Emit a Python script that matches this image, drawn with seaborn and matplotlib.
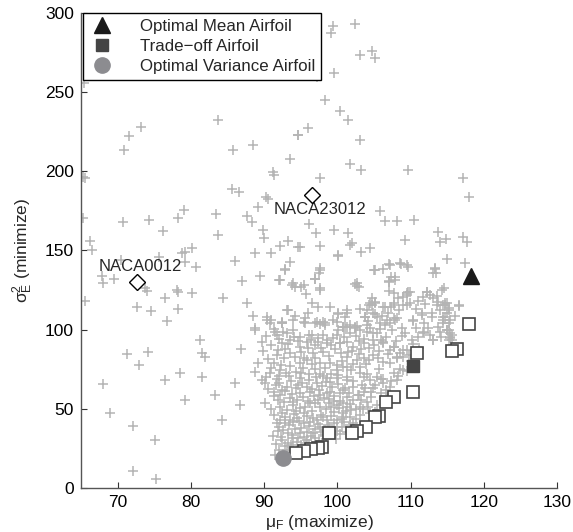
import numpy as np
import pandas as pd
import matplotlib
matplotlib.use("Agg")
import matplotlib.pyplot as plt
from matplotlib.lines import Line2D
import seaborn as sns

upper_pts = [
    (83.7, 232.7), (73.2, 227.8), (71.6, 222.6), (70.9, 213.7), (85.8, 213.4), (88.5, 216.5),
    (93.6, 207.8), (94.6, 223), (65.4, 255.8), (91.2, 199.6), (99.4, 291.6), (99.2, 287.4),
    (102.4, 293.3), (103.1, 273.5), (104.7, 275.8), (105.2, 271.8), (99.6, 262), (97.2, 259.4),
    (98.3, 245.3), (100.4, 238.4), (101.4, 232.7), (94.7, 223.2), (96.0, 227.4), (103.1, 219.8),
    (101.7, 204.7), (103.3, 201), (109.6, 201), (117.2, 196), (118.0, 183.8), (97.7, 196),
    (105.8, 175), (106.5, 168.5), (108.1, 168.5), (110.5, 169), (96.1, 166.8), (97.1, 160.9),
    (99.6, 163), (101.4, 160.9), (97.7, 152.9), (101.7, 153.5), (104.5, 151.4), (109.2, 156.7),
    (113.8, 161.5), (114.0, 155.2), (114.9, 157.1), (117.1, 158.8), (117.7, 155.2), (102, 155),
    (94.9, 152), (100.1, 146.7), (103.3, 148.8), (115, 144.4), (117.5, 141.9),
]
left_pts = [
    (65.5, 195.6), (65.3, 196.7), (91.3, 197.7), (85.6, 188.7), (86.6, 187.2), (90.2, 184),
    (90.6, 182.6), (89.2, 177.3), (79, 175.6), (78.3, 170.4), (83.5, 172.9), (87.6, 172),
    (88.3, 167.8), (70.7, 168.2), (74.3, 169.3), (76.2, 162.6), (89.9, 163), (90, 157.7),
    (65.3, 170.4), (83.7, 159.5), (66.2, 156.3), (66.5, 150.3), (93.3, 156), (92.2, 152.9),
    (94.6, 152.5), (79.2, 149.3), (80.1, 151.4), (78.8, 148.7), (75.6, 145.8), (88.8, 148.2),
    (91, 148.2), (70.4, 144), (80.7, 139.8), (79.2, 143), (86, 143.6), (93.6, 143),
    (92.9, 138.2), (67.8, 134), (68, 129.3), (69.5, 131.8), (73.7, 126.1), (74, 124.6),
    (78.1, 125), (78.3, 124), (80.2, 123), (76.5, 119.8), (84.4, 120.2), (87, 131),
    (89.5, 134), (92, 131.4), (93.8, 128.2), (94.2, 127.2), (65.5, 118), (87.6, 117),
    (72.6, 114.1), (74.6, 112), (78.2, 112.9), (76.7, 105.7), (88.5, 108.8), (90.4, 108.2),
    (91, 106.1), (92.4, 104.4), (93.3, 112.4), (94.2, 108.8), (88.8, 100.8),
]
lower_left_pts = [
    (68, 65.7), (71.3, 84.6), (72.9, 77.7), (74.2, 85.9), (76.5, 68.2), (78.5, 72.6),
    (81.3, 93.5), (81.9, 82.8), (69, 47.4), (72.1, 39.2), (75.1, 30.3), (72.1, 10.7),
    (75.3, 5.7), (79.2, 55.6), (83.3, 58.7), (84.3, 43), (86.7, 52.4),
]
band_pts = [
    (105, 138), (106.2, 138.5), (107.1, 141.3), (108.7, 141.3), (109.7, 139.8), (113.3, 138.3),
    (113.5, 136), (97.6, 138.8), (97.5, 135.6), (96.9, 131.8), (95.1, 127.2), (97.6, 126.1),
    (95.7, 122.6), (102.4, 128.6), (102.9, 127.2), (107.4, 133), (107, 130.8), (107.9, 131.4),
    (107.1, 124.6), (109.5, 123), (109.9, 124), (109, 120.8), (108.3, 119.8), (112.2, 124),
    (112.7, 121.9), (114.3, 125.1), (114.6, 126.1), (96.6, 116.7), (97.4, 114.5), (104.7, 119.8),
    (105.2, 116.7), (104.3, 115.6), (106.5, 114.5), (107.4, 114.5), (113.1, 119.8), (113.8, 117.7),
    (114.7, 115.6), (115.2, 113.5), (116.6, 115), (95.6, 107.2), (100.1, 110), (101.1, 108.2),
    (103.8, 108.2), (105.2, 110), (106.1, 108.7), (107.7, 107.2), (110.4, 105.7), (111.5, 110.4),
    (112.9, 108.2), (114.5, 108.2), (115.2, 104), (116.1, 108.7), (97.6, 103.6), (98.3, 103),
    (101.1, 101.9), (102.7, 102.3), (104, 103), (92.9, 137.7), (92.2, 131.4), (94, 129.3),
    (95.4, 128.2), (97.7, 137.7), (97, 131.8), (97.7, 125.1), (100.1, 147.2), (105.2, 137.7),
    (107.2, 140.9), (108.6, 141.9), (109.5, 140.9), (107.9, 133.5), (107, 130.3), (102.7, 129.3),
    (102.7, 127.6), (107.7, 123), (109.7, 124), (109.5, 121.9), (113.4, 138.8), (113.1, 135.6),
    (112.2, 124), (111.7, 120.8), (114.7, 116.7), (116.6, 115.6), (115.2, 112.4), (114.7, 108.2),
    (115.2, 99.8), (115.6, 96.7), (115.4, 94.6), (115.6, 93.5), (109.5, 115.6), (107.7, 115.6),
    (105.2, 117.7), (104.7, 115.6), (104, 112.4), (101.3, 112.4), (100.1, 110.4), (99.4, 106.1),
    (98.1, 105), (97, 104), (95.4, 105), (94, 106.1), (93.1, 112.4), (92.4, 105), (90.4, 106.1),
]
core_pts = [
    (91.5, 98.7), (92.6, 98.7), (94, 99.8), (94.9, 95.6), (96.5, 96.7), (97.4, 94.6),
    (98.6, 93.5), (100.1, 99.8), (101.3, 101.9), (102.4, 101.9), (103.1, 99.8), (104.9, 97.7),
    (106.5, 103), (107.9, 106.1), (110.4, 106.1), (111.7, 98.7), (113.1, 93.5), (106.3, 92.4),
    (107.7, 89.3), (109, 87.2), (108.1, 82.9), (109, 82.9), (108.6, 75), (109.5, 74),
    (90.8, 104.4), (92.4, 104.4), (95.6, 104), (97.2, 105), (98.3, 104), (99.9, 105),
    (100.8, 101.9), (88.8, 99.8), (91.7, 96.7), (93.1, 97.7), (96.1, 96.7), (97.4, 92.4),
    (98.6, 91.4), (100.4, 91.4), (94.9, 89.3), (93.6, 93.5), (92.4, 91.4), (89.7, 92.4),
    (86.9, 87.6), (81.5, 85), (91.7, 84), (91.3, 78.8), (89.2, 78.8), (88.8, 73.5),
    (90.8, 72.5), (92.2, 74.5), (94.9, 78.8), (95.8, 80.9), (96.7, 85), (97.7, 78.8),
    (99.0, 78.8), (99.9, 74.5), (101.3, 76.6), (81.5, 70.4), (86, 66.1), (89.7, 68.2),
    (90.1, 66.1), (92, 66.1), (93.1, 64), (94.9, 69.3), (95.8, 64), (97.2, 66.1),
    (98.6, 69.3), (99.9, 69.3), (101.3, 68.2), (91.3, 60.8), (92.2, 58.7), (93.6, 56.7),
    (94.9, 59.8), (96.3, 60.8), (97.7, 58.7), (99, 60.8), (100.4, 59.8), (101.3, 57.7),
    (90.1, 53.9), (92.2, 51.4), (93.1, 49.3), (94, 52.4), (94.9, 50.3), (96.3, 53.5),
    (97.7, 51.4), (98.8, 53.5), (99.9, 52.4), (101.3, 51.4), (92.2, 43), (92.9, 45),
    (93.6, 43), (94.5, 44), (95.4, 40.9), (96.3, 41.9), (97.2, 43), (98.6, 43),
    (99.9, 43), (100.8, 45), (92, 38.7), (92.6, 36.6), (93.8, 33.5), (94.9, 34.5),
    (95.8, 35.6), (96.7, 34.5), (97.7, 38.7), (98.3, 36.6), (99.9, 38.7), (92.4, 30.3),
    (93.3, 28.2), (94.5, 29.2), (95.8, 30.3), (97, 31.4), (93.1, 24), (94, 25),
]
core_extra_pts = [
    (91.2, 33.0), (91.6, 27.5), (92.8, 26.4), (93.9, 31.8), (94.2, 37.5), (95.1, 26.9),
    (95.5, 32.2), (96.2, 27.8), (96.9, 37.0), (97.5, 29.5), (98.1, 33.2), (98.7, 40.1),
    (99.3, 35.3), (99.8, 31.0), (100.4, 33.9), (100.9, 41.6), (91.8, 41.2), (92.5, 47.3),
    (93.4, 39.6), (94.1, 46.8), (94.8, 42.5), (95.9, 45.6), (96.6, 48.9), (97.8, 46.2),
    (98.4, 49.8), (99.1, 45.4), (99.6, 48.1), (100.2, 50.6), (101.9, 49.3), (102.6, 43.7),
    (103.5, 49.8), (104.2, 51.2), (91.0, 50.2), (91.9, 55.4), (92.7, 54.1), (93.8, 59.3),
    (94.5, 55.7), (95.3, 57.2), (96.0, 55.0), (96.8, 57.9), (97.3, 55.6), (98.2, 57.1),
    (98.9, 56.2), (99.6, 58.4), (100.3, 55.1), (101.6, 60.3), (102.8, 58.6), (104.6, 57.2),
    (90.6, 62.7), (91.6, 64.9), (92.4, 62.2), (93.7, 67.8), (94.3, 62.9), (95.2, 66.6),
    (96.5, 62.3), (97.1, 69.9), (97.9, 64.3), (98.5, 66.8), (99.3, 63.6), (100.1, 65.5),
    (101.0, 63.1), (102.1, 67.5), (103.4, 65.1), (104.1, 71.8), (90.3, 70.1), (91.0, 75.6),
    (92.0, 70.8), (93.0, 72.9), (93.6, 77.3), (94.4, 73.3), (95.3, 75.6), (96.2, 71.9),
    (96.9, 75.1), (97.6, 72.3), (98.3, 75.9), (99.2, 72.0), (100.0, 77.8), (101.9, 74.6),
    (103.9, 78.6), (105.7, 75.3), (90.6, 81.5), (91.9, 87.0), (92.7, 81.8), (93.5, 85.4),
    (94.2, 82.6), (95.1, 85.9), (96.0, 88.3), (97.0, 82.0), (98.0, 86.2), (98.9, 83.6),
    (99.7, 87.9), (100.5, 85.3), (102.0, 86.7), (103.2, 87.9), (104.3, 88.6), (105.7, 86.4),
    (106.9, 84.5), (92.0, 93.9), (93.3, 90.8), (94.6, 93.0), (95.8, 91.9), (96.9, 90.3),
    (98.0, 96.9), (99.4, 94.6), (100.9, 95.6), (102.6, 96.3), (103.6, 94.1), (104.4, 101.0),
    (105.8, 100.3), (108.8, 101.1), (110.2, 93.2), (111.0, 95.1), (112.4, 101.2), (111.2, 88.7),
    (110.4, 91.2), (110.0, 80.2), (106.2, 69.1), (103.0, 58.6), (105.1, 48.0), (102.2, 41.3),
    (93.4, 21.8), (92.1, 23.9), (91.5, 21.1),
]
core_fill_pts = [
    (91.4, 45.8), (91.9, 36.2), (92.3, 32.1), (92.9, 40.8), (93.2, 35.0), (93.7, 27.1),
    (94.0, 41.9), (94.4, 48.4), (94.7, 31.3), (95.0, 38.2), (95.4, 47.6), (95.7, 28.6),
    (96.1, 39.4), (96.4, 33.1), (96.7, 44.4), (97.1, 27.0), (97.4, 40.3), (97.8, 35.1),
    (98.1, 45.0), (98.5, 30.8), (98.8, 38.4), (99.2, 50.9), (99.5, 41.3), (100.0, 36.1),
    (100.7, 43.3), (101.2, 48.7), (101.8, 53.2), (102.5, 50.1), (103.3, 55.3), (103.8, 62.9),
    (104.6, 60.6), (105.2, 65.2), (105.9, 68.6), (106.6, 62.1), (107.4, 67.3), (108.3, 71.0),
    (91.3, 58.2), (91.8, 68.7), (92.3, 77.5), (92.9, 61.3), (93.4, 70.6), (93.9, 54.2),
    (94.6, 65.3), (95.0, 72.4), (95.6, 50.9), (96.1, 67.9), (96.6, 78.2), (97.0, 53.4),
    (97.5, 61.8), (98.0, 70.7), (98.6, 60.3), (99.0, 67.1), (99.5, 54.8), (100.1, 71.4),
    (100.6, 80.3), (101.4, 86.1), (102.2, 78.3), (102.9, 84.9), (103.7, 70.0), (104.3, 80.8),
    (105.0, 90.2), (105.6, 82.3), (106.7, 95.2), (107.2, 86.9), (108.0, 92.6), (108.9, 95.8),
    (109.8, 84.2), (110.7, 100.9), (111.9, 104.2), (112.6, 96.4), (113.7, 102.0), (114.2, 95.2),
    (89.9, 86.4), (90.3, 95.9), (90.9, 90.2), (91.4, 100.3), (92.9, 88.1), (94.1, 95.1),
    (95.4, 82.2), (96.4, 93.5), (97.8, 88.7), (99.1, 90.1), (99.9, 96.5), (101.7, 98.0),
    (103.0, 93.0), (104.2, 105.6), (105.8, 104.5), (106.9, 110.6), (108.4, 112.2), (110.8, 113.0),
    (112.0, 116.2), (113.6, 121.2), (111.0, 118.2), (103.1, 112.8), (99.0, 114.1), (96.0, 110.6),
]
right_core_pts = [
    (104.5, 116.7), (106.3, 114.5), (107.7, 116.7), (109, 115.6), (109.9, 117), (114.5, 115.6),
    (115, 116.7), (101.3, 110.4), (103.8, 108.2), (104.9, 110.4), (105.4, 108.2), (106.8, 106.1),
    (107.2, 104), (108.1, 107.2), (111.5, 109.3), (112.9, 110.4), (114.5, 106.1), (115.4, 106.1),
    (100.8, 101.9), (101.7, 103), (102.4, 100.8), (104, 98.7), (105.4, 97.7), (105.9, 93.5),
    (107.5, 99.8), (109.3, 97.7), (111.8, 97.7), (113.1, 93.5), (114, 98.7), (115, 99.8),
    (115.4, 95.6), (100.4, 91.4), (101.3, 92.4), (102.2, 89.3), (103.6, 91.4), (104.9, 93.5),
    (106.3, 91.4), (107.7, 89.3), (109.5, 87.2), (108.6, 85), (101.3, 82.9), (102.7, 80.9),
    (103.6, 81.9), (104.9, 84), (106.3, 79.8), (107.2, 78.8), (108.1, 81.9), (109, 74.5),
    (100.8, 76.6), (103.1, 76.6), (101.3, 70.4), (103.1, 72.5), (104.5, 68.2), (105.4, 70.4),
    (106.3, 66.1), (107.7, 72.5), (108.1, 68.2), (100.8, 61.9), (102.2, 64), (103.6, 60.8),
    (104.9, 63), (105.9, 59.8), (107.2, 64), (106.8, 57.7), (100.8, 53.5), (102.2, 55.6),
    (103.1, 51.4), (104, 54.5), (105.4, 52.4), (100.8, 47.2), (101.7, 45), (103.1, 46.1),
    (104.5, 47.2), (100.6, 38.7), (101.7, 39.8), (101.3, 35.6), (113.6, 115.6), (114, 112.4),
    (115, 110.4), (114.5, 104), (115, 99.8), (115.4, 97.7), (115.2, 93.5),
]

# pareto front (open squares)
front_x = [118.0, 116.3, 115.6, 110.9, 110.3, 107.8, 106.7, 105.7, 105.2, 103.9, 102.7, 102.0,
           98.9, 97.9, 97.3, 96.4, 95.4, 94.4]
front_y = [103.6, 88.0, 86.7, 85.0, 60.8, 57.3, 54.5, 45.5, 45.0, 38.7, 36.2, 34.6,
           34.6, 25.7, 25.3, 24.4, 23.6, 21.9]

# highlighted airfoils
best_mean = (118.3, 134)
trade_off = (110.3, 77)
best_var = (92.6, 18.8)
naca_names = ["NACA0012", "NACA23012"]
naca_x = [72.6, 96.5]
naca_y = [130, 185]
naca_label_x = [73.1, 97.6]
naca_label_y = [140, 175.6]

pts = np.array(upper_pts + left_pts + lower_left_pts + band_pts + core_pts
               + core_extra_pts + core_fill_pts + right_core_pts)
df = pd.DataFrame({"mu": pts[:, 0], "var": pts[:, 1]})

sns.set_style("white")
plt.rcParams["font.family"] = ["Liberation Sans", "DejaVu Sans"]
plt.rcParams["mathtext.fontset"] = "custom"
plt.rcParams["mathtext.rm"] = "Liberation Sans"

fig = plt.figure(figsize=(5.73, 5.32), dpi=100)
ax = fig.add_axes([81 / 573, 44 / 532, 476 / 573, 475 / 532])

sns.scatterplot(data=df, x="mu", y="var", marker="+", color="#b4b4b4", s=50,
                linewidth=1.1, ax=ax, legend=False, zorder=2)
ax.plot(front_x, front_y, ls="none", marker="s", ms=8, mfc="white", mec="#444444",
        mew=1.2, zorder=3)
ax.plot(*best_mean, marker="^", ms=11.5, color="#1a1a1a", ls="none", zorder=4)
ax.plot(*trade_off, marker="s", ms=9, color="#454545", ls="none", zorder=4)
ax.plot(*best_var, marker="o", ms=11, color="#8c8c90", ls="none", zorder=4)
ax.plot(naca_x, naca_y, ls="none", marker="D", ms=8, mfc="white", mec="black",
        mew=1.0, zorder=4)
for name, lx, ly in zip(naca_names, naca_label_x, naca_label_y):
    ax.text(lx, ly, name, ha="center", va="center", fontsize=12)

ax.set_xlim(65, 130)
ax.set_ylim(0, 300)
ax.set_xticks(range(70, 131, 10))
ax.set_yticks(range(0, 301, 50))
ax.tick_params(direction="in", length=4, width=0.8, colors="#333333", labelsize=12.5,
               labelcolor="black", pad=5, top=False, right=False, left=True, bottom=True)
for side in ["top", "right"]:
    ax.spines[side].set_visible(False)
for side in ["left", "bottom"]:
    ax.spines[side].set_color("#555555")
    ax.spines[side].set_linewidth(1.0)

ax.set_xlabel(r"$\mathregular{\mu_F}$ (maximize)", fontsize=12.5, labelpad=2)
ax.set_ylabel(r"$\mathregular{\sigma^2_E}$ (minimize)", fontsize=12.5, labelpad=7)

handles = [
    Line2D([], [], ls="none", marker="^", ms=11.5, color="#1a1a1a"),
    Line2D([], [], ls="none", marker="s", ms=8.5, color="#454545"),
    Line2D([], [], ls="none", marker="o", ms=11, color="#8c8c90"),
]
labels = ["Optimal Mean Airfoil", "Trade\u2212off Airfoil", "Optimal Variance Airfoil"]
leg = ax.legend(handles, labels, loc="upper left", bbox_to_anchor=(0.004, 1.0),
                borderaxespad=0, fontsize=12.2, frameon=True, fancybox=False,
                edgecolor="black", framealpha=1, handletextpad=1.5, labelspacing=0.3,
                borderpad=0.35, handlelength=1.5)
leg.get_frame().set_linewidth(1.0)

fig.savefig("out.png", dpi=100)
